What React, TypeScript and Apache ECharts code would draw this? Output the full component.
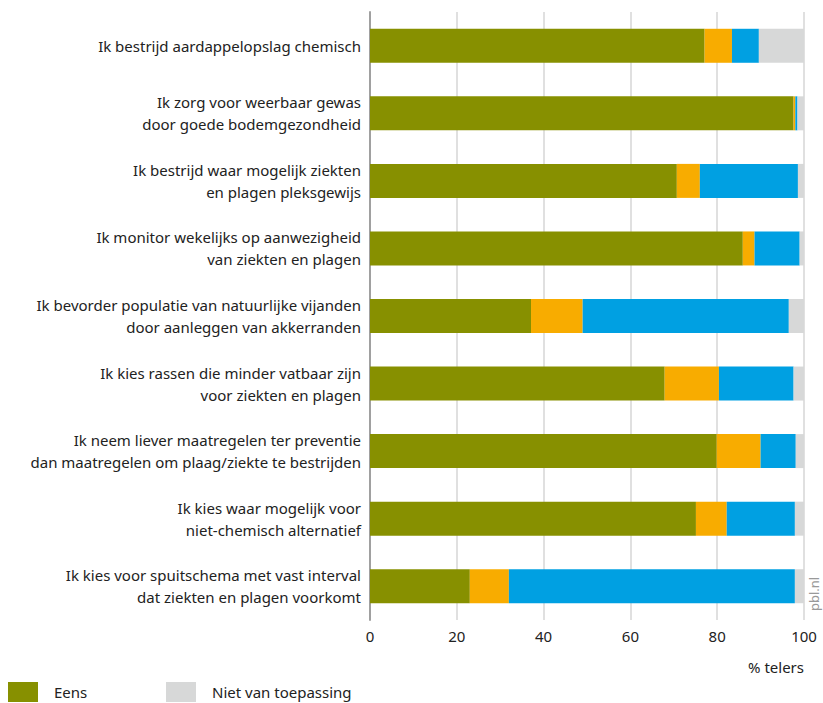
import React, { useEffect, useRef } from "react";
import * as echarts from "echarts";

const categories = [
  "Ik bestrijd aardappelopslag chemisch",
  "Ik zorg voor weerbaar gewas\ndoor goede bodemgezondheid",
  "Ik bestrijd waar mogelijk ziekten\nen plagen pleksgewijs",
  "Ik monitor wekelijks op aanwezigheid\nvan ziekten en plagen",
  "Ik bevorder populatie van natuurlijke vijanden\ndoor aanleggen van akkerranden",
  "Ik kies rassen die minder vatbaar zijn\nvoor ziekten en plagen",
  "Ik neem liever maatregelen ter preventie\ndan maatregelen om plaag/ziekte te bestrijden",
  "Ik kies waar mogelijk voor\nniet-chemisch alternatief",
  "Ik kies voor spuitschema met vast interval\ndat ziekten en plagen voorkomt",
];

const eens = [77.1, 97.6, 70.7, 85.9, 37.1, 67.9, 79.9, 75.1, 23.0];
const neutraal = [6.3, 0.4, 5.3, 2.7, 11.9, 12.5, 10.1, 7.1, 9.0];
const oneens = [6.2, 0.5, 22.6, 10.4, 47.5, 17.2, 8.1, 15.7, 65.9];
const nietVanToepassing = [10.4, 1.5, 1.4, 1.0, 3.5, 2.4, 1.9, 2.1, 2.1];

const seriesNames = ["Eens", "Neutraal", "Oneens", "Niet van toepassing"];
const seriesColors = ["#879000", "#f8ac00", "#00a0e2", "#d7d8d8"];
const xTicks = [0, 20, 40, 60, 80, 100];

const FONT = "Noto Sans";

export default function App() {
  const ref = useRef<HTMLDivElement>(null);
  useEffect(() => {
    if (!ref.current) return;
    document.body.style.margin = "0";
    const chart = echarts.init(ref.current, undefined, { renderer: "svg" });
    const data = [eens, neutraal, oneens, nietVanToepassing];
    chart.setOption({
      animation: false,
      textStyle: { fontFamily: FONT },
      grid: { left: 370, right: 19, top: 12, height: 608, containLabel: false },
      xAxis: {
        type: "value",
        min: xTicks[0],
        max: xTicks[xTicks.length - 1],
        interval: 20,
        axisLine: { show: false },
        axisTick: { show: false },
        splitLine: { show: true, lineStyle: { color: "#d6d6d6", width: 1.5 } },
        axisLabel: { color: "#222", fontSize: 15, margin: 8, fontFamily: FONT },
      },
      yAxis: {
        type: "category",
        data: categories,
        inverse: true,
        axisLine: { show: true, lineStyle: { color: "#a0a0a0", width: 2 } },
        axisTick: { show: false },
        axisLabel: {
          color: "#222",
          fontSize: 15,
          lineHeight: 22,
          margin: 9,
          align: "right",
          fontFamily: FONT,
        },
      },
      legend: [
        {
          data: ["Eens"],
          left: 8,
          top: 682,
          padding: 0,
          itemWidth: 30,
          itemHeight: 20,
          icon: "rect",
          textStyle: { fontSize: 15, color: "#222", padding: [0, 0, 0, 11], fontFamily: FONT },
        },
        {
          data: ["Niet van toepassing"],
          left: 166,
          top: 682,
          padding: 0,
          itemWidth: 30,
          itemHeight: 20,
          icon: "rect",
          textStyle: { fontSize: 15, color: "#222", padding: [0, 0, 0, 11], fontFamily: FONT },
        },
      ],
      graphic: [
        {
          type: "text",
          right: 19,
          top: 659,
          style: { text: "% telers", fontSize: 15, fill: "#222", fontFamily: FONT },
        },
        {
          type: "text",
          x: 807,
          y: 611,
          rotation: Math.PI / 2,
          style: { text: "pbl.nl", fontSize: 13, fill: "#999", fontFamily: FONT },
        },
      ],
      series: seriesNames.map((name, i) => ({
        name,
        type: "bar",
        stack: "total",
        barWidth: 34,
        itemStyle: { color: seriesColors[i] },
        emphasis: { disabled: true },
        data: data[i],
      })),
    });
    return () => chart.dispose();
  }, []);
  return <div ref={ref} style={{ width: 823, height: 703 }} />;
}
